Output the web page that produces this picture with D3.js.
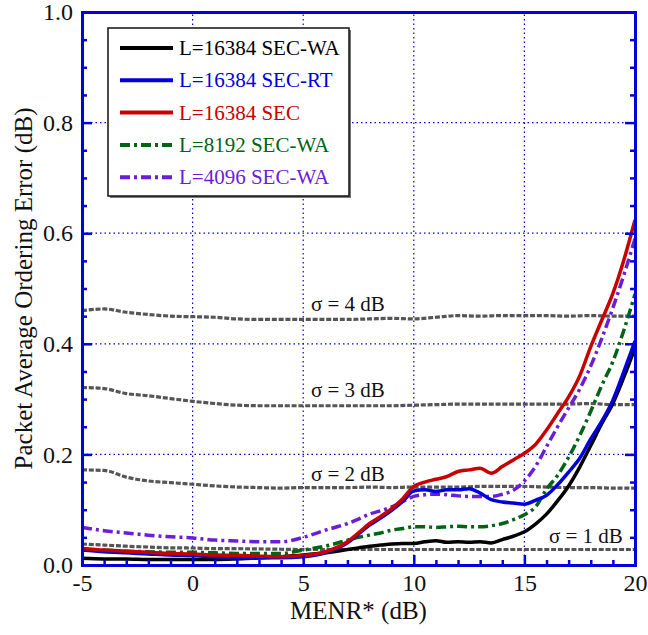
<!DOCTYPE html>
<html>
<head>
<meta charset="utf-8">
<script src="https://cdn.jsdelivr.net/npm/d3@7.9.0/dist/d3.min.js"></script>
<style>
  body { margin: 0; background: #fff; }
  svg text { font-family: 'Liberation Serif', 'Times New Roman', Times, serif; }
</style>
</head>
<body>
<svg id="chart" width="648" height="635"></svg>
<script>
// x grid shared by the five main curves
const xGrid = [-5, -4, -3, -2, -1, 0, 1, 2, 3, 4, 5, 6, 7, 7.5, 8, 8.5, 9, 9.5, 10, 10.5,
  11, 11.5, 12, 12.5, 13, 13.5, 14, 14.5, 15, 15.5, 16, 16.5, 17, 17.5, 18, 18.5, 19, 19.5, 20];

const wa16384 = [0.012, 0.011, 0.011, 0.010, 0.010, 0.010, 0.010, 0.011, 0.0127, 0.015, 0.018, 0.022, 0.028, 0.031,
  0.034, 0.036, 0.038, 0.039, 0.039, 0.042, 0.044, 0.041, 0.042, 0.041, 0.042, 0.040, 0.046, 0.052, 0.060,
  0.074, 0.092, 0.116, 0.143, 0.177, 0.216, 0.256, 0.292, 0.340, 0.393];
const rt16384 = [0.027, 0.024, 0.022, 0.020, 0.018, 0.017, 0.015, 0.014, 0.013, 0.013, 0.015, 0.022, 0.040, 0.056,
  0.072, 0.085, 0.099, 0.115, 0.134, 0.136, 0.133, 0.136, 0.136, 0.138, 0.130, 0.118, 0.114, 0.112, 0.110,
  0.117, 0.126, 0.145, 0.168, 0.193, 0.228, 0.260, 0.298, 0.350, 0.405];
const sec16384 = [0.030, 0.027, 0.025, 0.023, 0.021, 0.020, 0.018, 0.0175, 0.016, 0.015, 0.017, 0.024, 0.042, 0.058,
  0.075, 0.088, 0.102, 0.120, 0.142, 0.150, 0.155, 0.160, 0.169, 0.172, 0.175, 0.166, 0.178, 0.190, 0.202,
  0.218, 0.244, 0.274, 0.304, 0.342, 0.395, 0.443, 0.491, 0.552, 0.624];
const wa8192 = [0.028, 0.027, 0.025, 0.024, 0.023, 0.023, 0.022, 0.021, 0.021, 0.021, 0.027, 0.034, 0.045, 0.050,
  0.054, 0.058, 0.063, 0.066, 0.069, 0.069, 0.068, 0.069, 0.070, 0.069, 0.069, 0.071, 0.075, 0.082, 0.091,
  0.105, 0.137, 0.162, 0.195, 0.234, 0.278, 0.325, 0.368, 0.425, 0.490];
const wa4096 = [0.068, 0.062, 0.058, 0.054, 0.051, 0.049, 0.045, 0.0434, 0.042, 0.042, 0.050, 0.063, 0.075, 0.083,
  0.092, 0.098, 0.105, 0.115, 0.124, 0.127, 0.128, 0.127, 0.125, 0.124, 0.124, 0.124, 0.128, 0.135, 0.152,
  0.178, 0.214, 0.250, 0.284, 0.318, 0.360, 0.410, 0.465, 0.525, 0.590];

// sigma reference curves, every 1 dB
const sigmaX = d3.range(-5, 21);
const sigma4 = [0.460, 0.463, 0.457, 0.453, 0.450, 0.449, 0.448, 0.445, 0.444, 0.444, 0.444, 0.444, 0.444,
  0.445, 0.446, 0.445, 0.448, 0.451, 0.450, 0.451, 0.451, 0.451, 0.450, 0.451, 0.450, 0.450];
const sigma3 = [0.321, 0.319, 0.310, 0.306, 0.301, 0.296, 0.292, 0.289, 0.288, 0.288, 0.288, 0.288, 0.288,
  0.288, 0.288, 0.289, 0.290, 0.291, 0.291, 0.291, 0.291, 0.291, 0.291, 0.292, 0.290, 0.290];
const sigma2 = [0.172, 0.171, 0.159, 0.152, 0.149, 0.146, 0.143, 0.141, 0.140, 0.139, 0.140, 0.140, 0.140,
  0.141, 0.140, 0.141, 0.141, 0.141, 0.142, 0.142, 0.142, 0.141, 0.140, 0.140, 0.139, 0.139];
const sigma1 = [0.038, 0.036, 0.034, 0.0325, 0.031, 0.0307, 0.0295, 0.0295, 0.029, 0.0285, 0.028, 0.028, 0.028,
  0.028, 0.028, 0.028, 0.028, 0.028, 0.028, 0.028, 0.028, 0.028, 0.028, 0.028, 0.028, 0.028];

const seriesNames = ['L=16384 SEC-WA', 'L=16384 SEC-RT', 'L=16384 SEC', 'L=8192 SEC-WA', 'L=4096 SEC-WA'];
const seriesValues = [wa16384, rt16384, sec16384, wa8192, wa4096];
const seriesColors = ['#000000', '#0000dd', '#c80000', '#006414', '#6a1ed8'];
const seriesDash = [null, null, null, '10,4,3,4', '10,4,3,4'];

const sigmaValues = [sigma4, sigma3, sigma2, sigma1];
const sigmaLabels = ['σ = 4 dB', 'σ = 3 dB', 'σ = 2 dB', 'σ = 1 dB'];
const sigmaLabelPos = [[5.35, 0.459, 'start'], [5.35, 0.304, 'start'], [5.35, 0.152, 'start'], [19.45, 0.040, 'end']];

const xTicks = [-5, 0, 5, 10, 15, 20];
const yTicks = [0, 0.2, 0.4, 0.6, 0.8, 1.0];

const serif = "'Liberation Serif', 'Times New Roman', Times, serif";
const margin = { left: 82, top: 12, right: 13, bottom: 70 };
const W = 648, H = 635;
const svg = d3.select('#chart');
const x = d3.scaleLinear().domain([-5, 20]).range([margin.left, W - margin.right]);
const y = d3.scaleLinear().domain([0, 1]).range([H - margin.bottom, margin.top]);
const axisBlue = '#0000dd';

// grid
const grid = svg.append('g');
[0, 5, 10, 15].forEach(v => {
  grid.append('line').attr('x1', x(v)).attr('x2', x(v)).attr('y1', y(0)).attr('y2', y(1))
    .attr('stroke', axisBlue).attr('stroke-width', 1.2).attr('stroke-dasharray', '1.5,3');
});
[0.2, 0.4, 0.6, 0.8].forEach(v => {
  grid.append('line').attr('x1', x(-5)).attr('x2', x(20)).attr('y1', y(v)).attr('y2', y(v))
    .attr('stroke', axisBlue).attr('stroke-width', 1.2).attr('stroke-dasharray', '1.5,3');
});

// sigma curves
const sigmaLine = d3.line().x((d, i) => x(sigmaX[i])).y(d => y(d)).curve(d3.curveMonotoneX);
sigmaValues.forEach(vals => {
  svg.append('path').attr('d', sigmaLine(vals)).attr('fill', 'none')
    .attr('stroke', '#555').attr('stroke-width', 3.2).attr('stroke-dasharray', '5,1.8');
});
sigmaLabels.forEach((t, i) => {
  const [lx, ly, anchor] = sigmaLabelPos[i];
  svg.append('text').attr('x', x(lx)).attr('y', y(ly)).attr('text-anchor', anchor)
    .attr('font-family', serif).attr('font-size', 21).attr('fill', '#111').text(t);
});

// main curves
const line = d3.line().x((d, i) => x(xGrid[i])).y(d => y(d)).curve(d3.curveMonotoneX);
[4, 3, 0, 1, 2].forEach(k => {
  svg.append('path').attr('d', line(seriesValues[k])).attr('fill', 'none')
    .attr('stroke', seriesColors[k]).attr('stroke-width', 3.5)
    .attr('stroke-dasharray', seriesDash[k]);
});

// axes
const axBottom = svg.append('g').attr('transform', `translate(0,${y(0)})`);
axBottom.call(d3.axisBottom(x).tickValues(d3.range(-5, 21)).tickSize(-5).tickFormat(''));
axBottom.call(g => g.selectAll('.tick line').filter(d => d % 5 === 0).attr('y2', -10));
const xLab = svg.append('g').attr('transform', `translate(0,${y(0)})`)
  .call(d3.axisBottom(x).tickValues(xTicks).tickSize(0).tickPadding(9).tickFormat(d => String(d)));
xLab.select('.domain').remove();

const axLeft = svg.append('g').attr('transform', `translate(${x(-5)},0)`);
axLeft.call(d3.axisLeft(y).tickValues(d3.range(0, 1.0001, 0.05)).tickSize(-5).tickFormat(''));
axLeft.call(g => g.selectAll('.tick line').filter(d => Math.abs(d * 5 - Math.round(d * 5)) < 1e-6).attr('x2', 10));
const yLab = svg.append('g').attr('transform', `translate(${x(-5)},0)`)
  .call(d3.axisLeft(y).tickValues(yTicks).tickSize(0).tickPadding(9).tickFormat(d3.format('.1f')));
yLab.select('.domain').remove();

const axRight = svg.append('g').attr('transform', `translate(${x(20)},0)`);
axRight.call(d3.axisRight(y).tickValues(d3.range(0, 1.0001, 0.05)).tickSize(-5).tickFormat(''));
axRight.call(g => g.selectAll('.tick line').filter(d => Math.abs(d * 5 - Math.round(d * 5)) < 1e-6).attr('x2', -10));

const axTop = svg.append('g').attr('transform', `translate(0,${y(1)})`);
axTop.call(d3.axisTop(x).tickValues([]).tickSizeOuter(0));

[axBottom, axLeft, axRight, axTop].forEach(g => {
  g.selectAll('.domain').attr('stroke', axisBlue).attr('stroke-width', 3);
  g.selectAll('.tick line').attr('stroke', axisBlue).attr('stroke-width', 2.5);
});
[xLab, yLab].forEach(g => {
  g.attr('font-family', serif);
  g.selectAll('text').attr('font-size', 24).attr('fill', '#111').attr('font-family', serif);
});

// titles
svg.append('text').attr('x', (x(-5) + x(20)) / 2).attr('y', 619).attr('text-anchor', 'middle')
  .attr('font-family', serif).attr('font-size', 25).attr('fill', '#111').text('MENR* (dB)');
svg.append('text').attr('transform', `translate(32,${(y(0) + y(1)) / 2}) rotate(-90)`)
  .attr('text-anchor', 'middle').attr('font-family', serif).attr('font-size', 25).attr('fill', '#111')
  .text('Packet Average Ordering Error (dB)');

// legend
const lg = svg.append('g').attr('transform', 'translate(108,28)');
lg.append('rect').attr('x', 2).attr('y', 2).attr('width', 241).attr('height', 168).attr('fill', '#777');
lg.append('rect').attr('width', 241).attr('height', 168).attr('fill', '#fff')
  .attr('stroke', '#111').attr('stroke-width', 1.5);
seriesNames.forEach((name, i) => {
  const yy = 20 + i * 32.3;
  lg.append('line').attr('x1', 12).attr('x2', 65).attr('y1', yy).attr('y2', yy)
    .attr('stroke', seriesColors[i]).attr('stroke-width', 4).attr('stroke-dasharray', seriesDash[i]);
  lg.append('text').attr('x', 71).attr('y', yy + 7).attr('font-family', serif).attr('font-size', 21)
    .attr('fill', seriesColors[i]).text(name);
});
</script>
</body>
</html>
